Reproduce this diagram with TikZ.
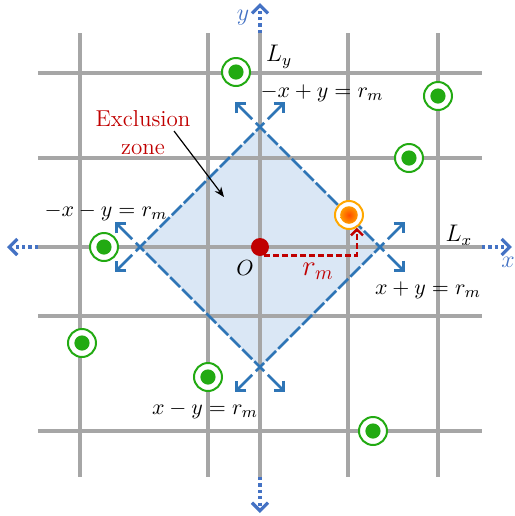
\documentclass[tikz,border=0pt]{standalone}
\usepackage{tikz}
\usetikzlibrary{arrows.meta}
\definecolor{gridgray}{RGB}{166,166,166}
\definecolor{zoneblue}{RGB}{46,117,182}
\definecolor{zonefill}{RGB}{218,231,245}
\definecolor{axisblue}{RGB}{68,114,196}
\definecolor{usergreen}{RGB}{34,170,18}
\definecolor{origred}{RGB}{192,0,0}
\definecolor{targetorange}{RGB}{255,168,0}
\tikzset{
  gridline/.style={gridgray, line width=1.6pt},
  axisext/.style={
    axisblue, line width=1.6pt, dash pattern=on 1.6pt off 1.6pt,
    -{Straight Barb[length=4pt, width=8pt]}
  },
  zoneedge/.style={
    zoneblue, line width=1.3pt, dash pattern=on 7pt off 1.5pt,
    shorten <=-3pt, shorten >=-3pt
  },
  outnormal/.style={zoneblue, line width=1.3pt, -{Straight Barb[length=3.5pt, width=7pt]}},
  user/.style={
    circle, draw=usergreen, line width=1pt, fill=white,
    minimum size=14pt, inner sep=0pt,
    path picture={\fill[usergreen] (path picture bounding box.center) circle (3.8pt);}
  },
  target/.style={
    circle, draw=targetorange, line width=1pt, fill=white,
    minimum size=14pt, inner sep=0pt,
    path picture={\shade[inner color=orange!60!red, outer color=targetorange!60!yellow]
      (path picture bounding box.center) circle (4.4pt);}
  },
  origin/.style={circle, fill=origred, minimum size=9pt, inner sep=0pt},
  eq/.style={font=\fontsize{11}{13}\selectfont, inner sep=1pt},
  rline/.style={
    origred, line width=1.2pt, dash pattern=on 3pt off 1.5pt,
    -{Straight Barb[length=3pt, width=6pt]}
  },
  pointer/.style={-{Stealth[length=5pt, width=4pt]}, line width=0.6pt}
}

\begin{document}
\begin{tikzpicture}[x=5pt, y=5pt]
  \useasboundingbox (-26,24.7) rectangle (25.5,-26.9);
  \coordinate (T) at (0,12);
  \coordinate (R) at (12,0);
  \coordinate (B) at (0,-12);
  \coordinate (L) at (-12,0);

  \fill[zonefill] (T) -- (R) -- (B) -- (L) -- cycle;

  \foreach \gx in {-18,-5.2,0,8.8,17.8}
    \draw[gridline] (\gx,21.4) -- (\gx,-23);
  \foreach \gy in {17.4,8.9,0,-6.9,-18.4}
    \draw[gridline] (-22.2,\gy) -- (22.2,\gy);

  \coordinate (xw) at (-22.2,0);
  \coordinate (xwend) at (-25.3,0);
  \coordinate (xe) at (22.2,0);
  \coordinate (xeend) at (25.2,0);
  \coordinate (yn) at (0,21.4);
  \coordinate (ynend) at (0,24.4);
  \coordinate (ys) at (0,-23);
  \coordinate (ysend) at (0,-26.6);
  \draw[axisext] (xw) -- (xwend);
  \draw[axisext] (xe) -- (xeend);
  \draw[axisext] (yn) -- (ynend);
  \draw[axisext] (ys) -- (ysend);
  \node[eq, text=axisblue, font=\fontsize{13}{15}\selectfont] (ylab) at (-1.7,22.9) {$y$};
  \node[eq, text=axisblue, font=\fontsize{13}{15}\selectfont] (xlab) at (24.8,-1.5) {$x$};

  \draw[zoneedge] (L) -- (T);
  \draw[zoneedge] (T) -- (R);
  \draw[zoneedge] (R) -- (B);
  \draw[zoneedge] (B) -- (L);

  \foreach \v/\a in {T/45, T/135, R/45, R/-45, B/-45, B/-135, L/135, L/-135}
    \draw[outnormal] ([shift={(\a:1.1)}]\v) -- ([shift={(\a:3.5)}]\v);

  \foreach \ux/\uy [count=\i] in {-2.4/17.5, 17.8/15.1, 14.9/8.9, -15.6/0, -17.8/-9.6, -5.2/-13, 11.3/-18.4}
    \node[user] (u\i) at (\ux,\uy) {};
  \node[target] (tg) at (8.9,3.2) {};
  \node[origin] (O) at (0,0) {};
  \draw[rline] (O.-62) -| (tg.-58);

  \node[eq] (olab) at (-1.5,-2.1) {$O$};
  \node[eq, text=origred, font=\fontsize{14}{16}\selectfont] (rmlab) at (5.8,-2.4) {$r_m$};
  \node[eq, font=\fontsize{12}{14}\selectfont] (ly) at (1.9,19) {$L_y$};
  \node[eq, font=\fontsize{12}{14}\selectfont] (lx) at (19.9,1.2) {$L_x$};
  \node[eq] (e1) at (6.2,15.4) {$-x+y=r_m$};
  \node[eq] (e2) at (16.8,-4.3) {$x+y=r_m$};
  \node[eq] (e3) at (-5.5,-16.3) {$x-y=r_m$};
  \node[eq] (e4) at (-15.4,3.5) {$-x-y=r_m$};

  \node[font=\fontsize{11.5}{14}\selectfont, text=origred, align=center, inner sep=0pt] (ez) at (-11.7,11.45) {Exclusion\\zone};
  \coordinate (zs) at (-8.6,11.6);
  \coordinate (ze) at (-3.6,5.0);
  \draw[pointer] (zs) -- (ze);
\end{tikzpicture}
\end{document}
